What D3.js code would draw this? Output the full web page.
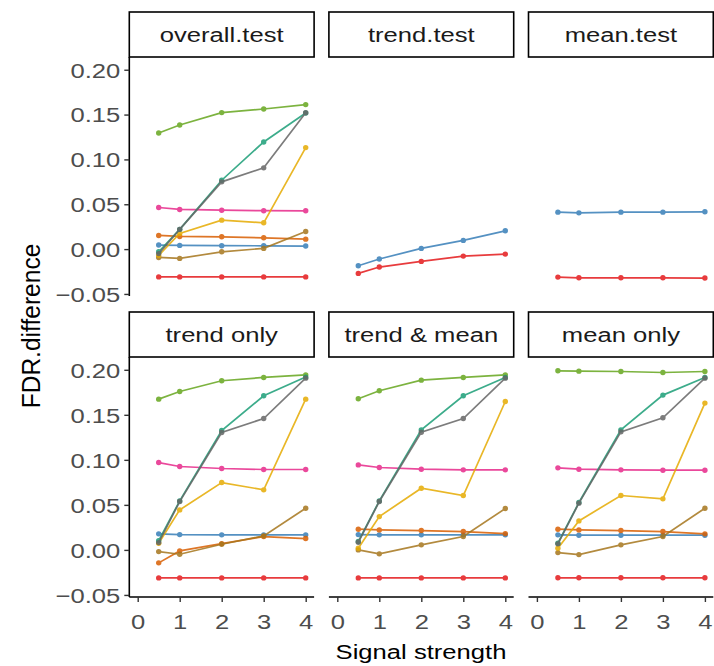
<!DOCTYPE html>
<html>
<head>
<meta charset="utf-8">
<script src="https://cdn.jsdelivr.net/npm/d3@7"></script>
<style>
  body { margin: 0; background: #fff; }
  text { font-family: "Liberation Sans", Arial, sans-serif; }
</style>
</head>
<body>
<svg id="chart" width="714" height="666"></svg>
<script>
// x values shared by every series
const signal = [0.5, 1, 2, 3, 4]
const xTicks = [0, 1, 2, 3, 4]
const yTicks = [-0.05, 0, 0.05, 0.10, 0.15, 0.20]
const panelTitles = ['overall.test', 'trend.test', 'mean.test', 'trend only', 'trend & mean', 'mean only']

// draw order (grey last so it sits over teal)
const seriesOrder = ['red', 'blue', 'orange', 'pink', 'brown', 'yellow', 'green', 'teal', 'grey']
const seriesColor = {
  red: '#E41A1C', blue: '#377EB8', orange: '#D95F02', pink: '#E7298A', green: '#66A61E',
  yellow: '#E6AB02', brown: '#A6761D', teal: '#1B9E77', grey: '#666666'
}

const overallTest = {
  red: [-0.031, -0.031, -0.031, -0.031, -0.031],
  blue: [0.0045, 0.0041, 0.0038, 0.0037, 0.0034],
  orange: [0.0152, 0.0141, 0.0137, 0.0126, 0.0111],
  pink: [0.0464, 0.0442, 0.0434, 0.0428, 0.0427],
  brown: [-0.0093, -0.0104, -0.003, 0.0008, 0.0197],
  yellow: [-0.007, 0.0175, 0.0323, 0.0293, 0.1132],
  green: [0.1295, 0.1384, 0.1522, 0.1562, 0.1611],
  teal: [-0.003, 0.022, 0.0768, 0.1195, 0.1518],
  grey: [-0.005, 0.022, 0.075, 0.0906, 0.152]
}
const trendTest = {
  red: [-0.0271, -0.020, -0.0137, -0.0078, -0.0056],
  blue: [-0.0186, -0.0111, 0.0008, 0.0097, 0.0204]
}
const meanTest = {
  red: [-0.0312, -0.032, -0.032, -0.032, -0.0323],
  blue: [0.0412, 0.0404, 0.0412, 0.0412, 0.0416]
}
const trendOnly = {
  red: [-0.0311, -0.0311, -0.0311, -0.0311, -0.0311],
  blue: [0.0178, 0.017, 0.0167, 0.0167, 0.0167],
  orange: [-0.0144, -0.0011, 0.007, 0.0148, 0.0126],
  pink: [0.097, 0.0926, 0.0904, 0.0893, 0.0893],
  brown: [-0.0019, -0.0048, 0.0063, 0.0156, 0.0463],
  yellow: [0.0074, 0.0444, 0.0748, 0.0667, 0.1674],
  green: [0.1674, 0.1759, 0.1878, 0.1915, 0.1944],
  teal: [0.0103, 0.0544, 0.1326, 0.1711, 0.1919],
  grey: [0.0081, 0.0537, 0.1304, 0.1459, 0.1907]
}
const trendMean = {
  red: [-0.0311, -0.0311, -0.0311, -0.0311, -0.0311],
  blue: [0.017, 0.0167, 0.0167, 0.0167, 0.0167],
  orange: [0.023, 0.0222, 0.0215, 0.0204, 0.0181],
  pink: [0.0944, 0.0915, 0.0896, 0.0889, 0.0889],
  brown: [0.0, -0.0044, 0.0056, 0.0148, 0.0459],
  yellow: [0.0019, 0.037, 0.0685, 0.0604, 0.1648],
  green: [0.1678, 0.1767, 0.1885, 0.1915, 0.1944],
  teal: [0.0093, 0.0544, 0.1333, 0.1711, 0.1915],
  grey: [0.0085, 0.0537, 0.1307, 0.1459, 0.1907]
}
const meanOnly = {
  red: [-0.031, -0.031, -0.031, -0.031, -0.031],
  blue: [0.0167, 0.0163, 0.0163, 0.0163, 0.0163],
  orange: [0.023, 0.0222, 0.0215, 0.0204, 0.0178],
  pink: [0.0911, 0.0896, 0.0889, 0.0885, 0.0885],
  brown: [-0.003, -0.0052, 0.0056, 0.0148, 0.0463],
  yellow: [0.0019, 0.0322, 0.0604, 0.0567, 0.163],
  green: [0.1989, 0.1985, 0.1981, 0.197, 0.1981],
  teal: [0.0074, 0.0526, 0.1333, 0.1719, 0.1915],
  grey: [0.0067, 0.0519, 0.1311, 0.1467, 0.1907]
}
const panelData = [overallTest, trendTest, meanTest, trendOnly, trendMean, meanOnly]

// layout
const panelLefts = [129.3, 328.9, 528.5]
const panelWidth = 184.8
const rows = [
  { top: 57, bottom: 296, strip: 12 },
  { top: 357, bottom: 597, strip: 312 }
]
const stripHeight = 45
const stretch = 1.22 // text in the reference is drawn a bit wide
const fontSize = 21

const svg = d3.select('#chart')
const fmt = d3.format('.2f')

panelTitles.forEach((title, i) => {
  const col = i % 3
  const row = rows[Math.floor(i / 3)]
  const left = panelLefts[col]
  const x = d3.scaleLinear().domain([-0.2, 4.2]).range([left, left + panelWidth])
  const y = d3.scaleLinear().domain([-0.0523, 0.2142]).range([row.bottom, row.top])
  const g = svg.append('g')

  // strip
  g.append('rect')
    .attr('x', left).attr('y', row.strip)
    .attr('width', panelWidth).attr('height', stripHeight)
    .attr('fill', '#fff').attr('stroke', '#000').attr('stroke-width', 1.6)
  g.append('text')
    .attr('transform', `translate(${left + panelWidth / 2},${row.strip + stripHeight / 2 + 7.5}) scale(${stretch},1)`)
    .attr('text-anchor', 'middle')
    .attr('font-size', fontSize)
    .attr('fill', '#1a1a1a')
    .text(title)

  // y axis only on the left column
  if (col === 0) {
    const ya = g.append('g')
      .attr('transform', `translate(${left},0)`)
      .call(d3.axisLeft(y).tickValues(yTicks).tickFormat(fmt).tickSize(5).tickSizeOuter(0))
    ya.select('.domain').attr('stroke', '#000').attr('stroke-width', 1.6)
      .attr('d', `M0,${row.top}V${row.bottom}`)
    ya.selectAll('.tick line').attr('stroke', '#333').attr('stroke-width', 1.4)
    ya.selectAll('.tick text')
      .attr('x', null).attr('dy', '0.35em')
      .attr('transform', `translate(-9,0) scale(${stretch},1)`)
      .attr('font-size', fontSize).attr('fill', '#4d4d4d')
      .style('font-family', '"Liberation Sans", Arial, sans-serif')
  }

  // x axis only on the bottom row
  if (i >= 3) {
    const xa = g.append('g')
      .attr('transform', `translate(0,${row.bottom})`)
      .call(d3.axisBottom(x).tickValues(xTicks).tickFormat(d3.format('d')).tickSize(5).tickSizeOuter(0))
    xa.select('.domain').attr('stroke', '#000').attr('stroke-width', 1.6)
      .attr('d', `M${left},0H${left + panelWidth}`)
    xa.selectAll('.tick line').attr('stroke', '#333').attr('stroke-width', 1.4)
    xa.selectAll('.tick text')
      .attr('y', null).attr('dy', null)
      .attr('transform', `translate(0,32) scale(${stretch},1)`)
      .attr('font-size', fontSize).attr('fill', '#4d4d4d')
      .style('font-family', '"Liberation Sans", Arial, sans-serif')
  }

  const data = panelData[i]
  const line = d3.line().x((d, k) => x(signal[k])).y(d => y(d))
  seriesOrder.filter(s => data[s]).forEach(s => {
    const sg = g.append('g').attr('opacity', 0.85)
    sg.append('path')
      .attr('d', line(data[s]))
      .attr('fill', 'none')
      .attr('stroke', seriesColor[s])
      .attr('stroke-width', 1.7)
    sg.selectAll('circle')
      .data(data[s])
      .enter()
      .append('circle')
      .attr('cx', (d, k) => x(signal[k]))
      .attr('cy', d => y(d))
      .attr('r', 2.7)
      .attr('fill', seriesColor[s])
  })
})

// axis titles
svg.append('text')
  .attr('transform', `translate(421,659) scale(${stretch},1)`)
  .attr('text-anchor', 'middle')
  .attr('font-size', fontSize)
  .attr('fill', '#000')
  .text('Signal strength')
svg.append('text')
  .attr('transform', 'translate(40,326) rotate(-90) scale(1.17,1.22)')
  .attr('text-anchor', 'middle')
  .attr('font-size', fontSize)
  .attr('fill', '#000')
  .text('FDR.difference')
</script>
</body>
</html>
